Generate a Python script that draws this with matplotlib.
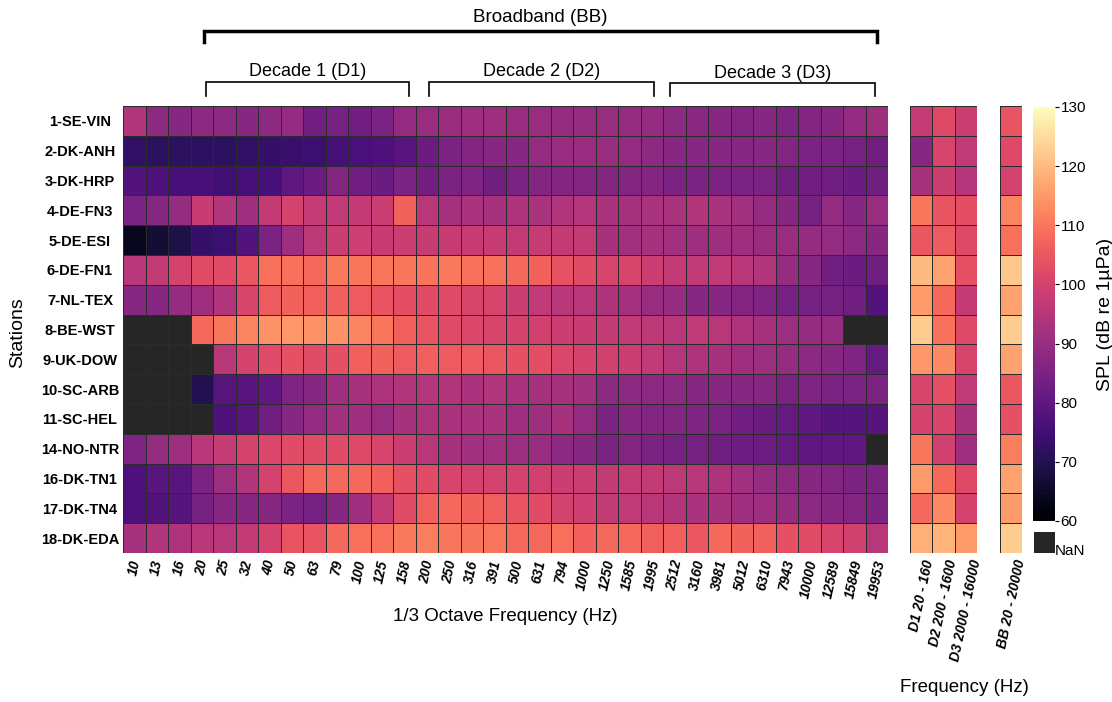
import numpy as np
import matplotlib
matplotlib.use('Agg')
import matplotlib.pyplot as plt
from matplotlib import transforms
from matplotlib.patches import Rectangle

plt.rcParams['font.family'] = ['Liberation Sans', 'DejaVu Sans']

nan = np.nan

stations = ['1-SE-VIN', '2-DK-ANH', '3-DK-HRP', '4-DE-FN3', '5-DE-ESI', '6-DE-FN1',
            '7-NL-TEX', '8-BE-WST', '9-UK-DOW', '10-SC-ARB', '11-SC-HEL', '14-NO-NTR',
            '16-DK-TN1', '17-DK-TN4', '18-DK-EDA']

freqs = ['10', '13', '16', '20', '25', '32', '40', '50', '63', '79', '100', '125', '158',
         '200', '250', '316', '391', '500', '631', '794', '1000', '1250', '1585', '1995',
         '2512', '3160', '3981', '5012', '6310', '7943', '10000', '12589', '15849', '19953']

decade_labels = ['D1 20 - 160', 'D2 200 - 1600', 'D3 2000 - 16000']
bb_labels = ['BB 20 - 20000']

# 1/3 octave band SPL per station (dB re 1uPa)
spl_thirds = np.array([
    [94, 88, 87, 88, 88, 87, 88, 89, 83, 84, 83, 85, 89,
     90, 90, 91, 91, 90, 90, 89.5, 89.5, 90, 89.5, 89, 88, 87.5, 87, 86.5, 87, 85.5, 86, 87, 89, 91],
    [72.5, 72, 71.5, 72, 72, 72.5, 73, 73.5, 74, 76, 76.5, 77, 79,
     82, 85, 86, 87, 87, 89, 90, 90, 90, 89, 88, 87, 87, 87, 87, 87, 86, 85, 85, 84, 83],
    [78, 77, 76, 76, 75, 76, 76, 80, 82, 86, 83, 82, 85,
     83.5, 85, 85.5, 83, 85, 86, 86, 86, 86, 86, 86, 85, 85, 85, 85, 85, 83, 83, 83, 82, 83],
    [85, 87, 89.5, 98, 94, 91, 97, 100, 97.5, 96.5, 97, 98.5, 107,
     95, 92, 93, 92.5, 93.5, 93, 94, 94.5, 93, 92.5, 93, 93, 94, 93, 91.5, 89, 87, 84, 89, 87, 90],
    [64, 67, 69, 73, 74, 78, 85, 91, 96, 98.5, 99, 98, 98.5,
     98, 98, 98, 98, 97, 97.5, 97, 97, 92.5, 91.5, 92.5, 91.5, 91, 91, 91, 90, 90, 89.5, 89, 88, 87],
    [95, 97, 100, 102.5, 102.5, 105, 109, 109, 108, 110.5, 110, 110, 110,
     109.5, 110.5, 109, 109, 108, 107, 104, 102.5, 101, 101, 98.5, 97, 96.5, 96.5, 95, 94, 89.5, 87, 83, 82, 83],
    [87, 87, 89.5, 91, 94, 101, 105.5, 107, 106.5, 106.5, 105.5, 104.5, 103,
     102.5, 102.5, 101, 101, 98.5, 96.5, 95, 95, 93.5, 92, 90, 89.5, 87, 87, 86, 85.5, 84, 84, 84, 83, 78],
    [nan, nan, nan, 108, 110, 112, 114, 114.5, 114, 114, 112, 110, 106.5,
     104.5, 102.5, 101.5, 101, 100, 99.5, 98.5, 98, 97, 96.5, 96, 95.5, 96.5, 95, 93.5, 92.5, 90.5, 89.5, 89, nan, nan],
    [nan, nan, nan, nan, 95, 100, 102.5, 103.5, 102.5, 103.5, 106.5, 107, 105.5,
     106.5, 105.5, 105.5, 105, 103.5, 103, 101.5, 100, 99.5, 98.5, 96.5, 94.5, 93.5, 92.5, 91, 90.5, 89.5, 88, 87, 85.5, 81],
    [nan, nan, nan, 70, 79, 79, 80.5, 85.5, 87, 91, 92.5, 93.5, 94,
     94.5, 94, 93, 94, 93, 92.5, 92.5, 91.5, 88, 88, 88, 88, 87, 87, 87, 87, 85, 85.5, 85, 85, 85],
    [nan, nan, nan, nan, 77, 79, 83, 87, 89, 91.5, 91, 90, 92.5,
     93.5, 93, 93, 93, 91, 91, 92.5, 89, 85, 87, 86, 86, 85.5, 85, 83, 82, 81, 80, 78.5, 78.5, 78.5],
    [85.5, 89.5, 91, 95, 97.5, 100, 101.5, 102.5, 102.5, 102.5, 102, 101, 98.5,
     95, 92.5, 91.5, 91.5, 90.5, 90, 88, 87, 85, 86, 85, 84, 84, 83, 82.5, 82.5, 81, 80, 80.5, 80.5, nan],
    [77, 79, 79, 85, 90.5, 94, 100, 105, 108, 108, 108, 106.5, 103.5,
     102.5, 101, 100, 100, 100, 99.5, 98.5, 98.5, 97, 97.5, 97, 96, 95, 93.5, 91.5, 89.5, 88, 87, 86, 85, 85],
    [77, 77.5, 78.5, 84, 87, 87, 87, 85, 84, 87, 91, 97, 102.5,
     106.5, 108, 107, 106.5, 104.5, 102.5, 100, 99, 97, 96.5, 95, 94, 93, 92.5, 91, 91, 89.5, 88, 87, 86, 85],
    [92.5, 94, 93.5, 95.5, 95, 97, 100, 104.5, 104.5, 108, 109, 109, 110.5,
     111, 110, 109.5, 110, 108, 108, 109, 106.5, 108, 108, 106.5, 106.5, 105, 108, 107, 106.5, 103.5, 102.5, 101, 99.5, 95],
])

# decade band levels D1, D2, D3
spl_decades = np.array([
    [97.5, 102, 98.5],
    [87, 101, 96.5],
    [92.5, 98.5, 94.5],
    [110, 104.5, 103],
    [105, 105.5, 102],
    [120, 116.5, 103.5],
    [115.5, 108, 97],
    [122.5, 109, 102],
    [114.5, 113, 101],
    [101, 103.5, 96.5],
    [100, 101, 92.5],
    [110, 99.5, 91],
    [115, 108, 102],
    [108, 113, 100],
    [118.5, 119, 115],
])

# broadband level 20 Hz - 20 kHz
spl_bb = np.array([104.5, 102, 100, 112, 109, 122, 116.5, 122.5, 116.5,
                   105, 103.5, 111, 116.5, 115.5, 122.5]).reshape(-1, 1)

W, H = 1112, 702
fig = plt.figure(figsize=(W / 100, H / 100), dpi=100)


def px_axes(x0, y0, x1, y1):
    # axes placed by pixel box (top-left origin)
    return fig.add_axes([x0 / W, 1 - y1 / H, (x1 - x0) / W, (y1 - y0) / H])


cmap = plt.get_cmap('magma').copy()
cmap.set_bad('#262626')


def draw_grid(ax, values, xlabels):
    data = np.ma.masked_invalid(values)
    mesh = ax.pcolormesh(data, cmap=cmap, vmin=60, vmax=130,
                         edgecolors='#2b2b2b', linewidth=0.6)
    ax.set_xlim(0, data.shape[1])
    ax.set_ylim(data.shape[0], 0)
    ax.set_xticks(np.arange(data.shape[1]) + 0.5)
    ax.set_xticklabels(xlabels, rotation=78, fontsize=10, fontweight='bold',
                       fontstyle='italic')
    ax.set_yticks([])
    ax.tick_params(length=0, pad=4)
    for s in ax.spines.values():
        s.set_visible(False)
    return mesh


ax = px_axes(123, 106, 888, 553)
mesh = draw_grid(ax, spl_thirds, freqs)
ax.set_yticks(np.arange(len(stations)) + 0.5)
ax.set_yticklabels(stations, fontsize=10.5, fontweight='bold', ha='center')
ax.tick_params(axis='y', length=0, pad=31)
ax.set_xlabel('1/3 Octave Frequency (Hz)', fontsize=13.5, labelpad=6)

ax_dec = px_axes(910, 106, 977, 553)
draw_grid(ax_dec, spl_decades, decade_labels)

ax_bb = px_axes(1000, 106, 1022, 553)
draw_grid(ax_bb, spl_bb, bb_labels)

fig.text(18 / W, 1 - 333 / H, 'Stations', rotation=90, fontsize=14,
         ha='center', va='center')
fig.text(964 / W, 1 - 687 / H, 'Frequency (Hz)', fontsize=13.5,
         ha='center', va='center')

# colorbar and NaN swatch
cax = px_axes(1033, 107, 1055, 521)
cb = fig.colorbar(mesh, cax=cax, ticks=np.arange(60, 131, 10))
cb.outline.set_visible(False)
cax.tick_params(labelsize=11, length=3, width=0.8, pad=1)
cb.set_label('SPL (dB re 1\u00b5Pa)', fontsize=14, labelpad=8)

fig.add_artist(Rectangle((1034 / W, 1 - 553 / H), 21 / W, 21 / H,
                         transform=fig.transFigure, facecolor='#262626',
                         edgecolor='none'))
fig.text(1055 / W, 1 - 551 / H, 'NaN', fontsize=11, ha='left', va='center')

# band brackets above the heatmap
trans = transforms.blended_transform_factory(ax.transData, fig.transFigure)


def bracket(x0, x1, y_top, y_bot, text, y_text, lw, size):
    ax.plot([x0, x0, x1, x1], [1 - y_bot / H, 1 - y_top / H, 1 - y_top / H, 1 - y_bot / H],
            color='black', lw=lw, transform=trans, clip_on=False,
            solid_joinstyle='miter')
    ax.text((x0 + x1) / 2, 1 - y_text / H, text, transform=trans, ha='center',
            va='center', fontsize=size)


bracket(3.6, 33.5, 31, 42, 'Broadband (BB)', 17, 2.5, 13.5)
bracket(3.7, 12.7, 82, 96, 'Decade 1 (D1)', 72, 1.2, 13)
bracket(13.6, 23.6, 82, 96, 'Decade 2 (D2)', 72, 1.2, 13)
bracket(24.3, 33.4, 83, 96, 'Decade 3 (D3)', 73, 1.2, 13)

fig.savefig('out.png', dpi=100)
